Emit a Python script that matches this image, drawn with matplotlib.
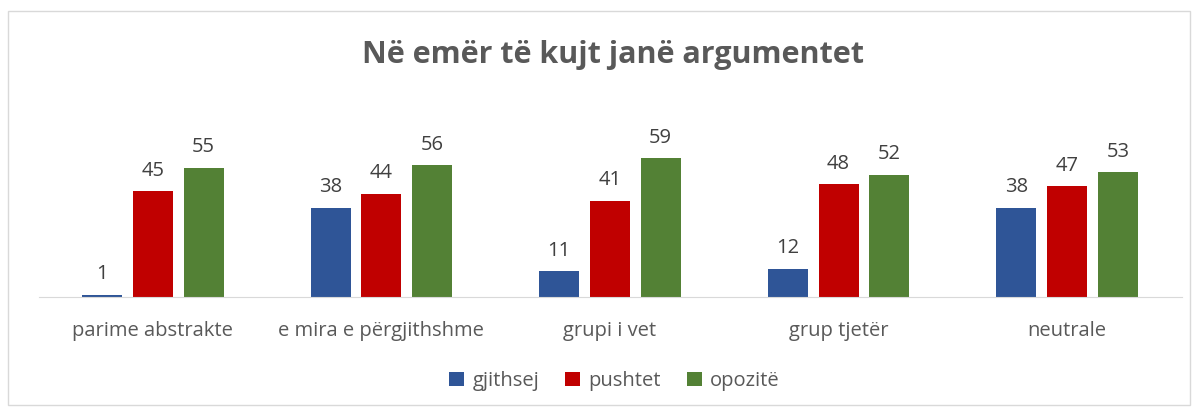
import numpy as np
import matplotlib.pyplot as plt
from matplotlib.patches import Rectangle

categories = ["parime abstrakte", "e mira e përgjithshme", "grupi i vet", "grup tjetër", "neutrale"]
series_names = ["gjithsej", "pushtet", "opozitë"]
gjithsej = [1, 38, 11, 12, 38]
pushtet = [45, 44, 41, 48, 47]
opozite = [55, 56, 59, 52, 53]
colors = ["#2F5597", "#C00000", "#538135"]

plt.rcParams['font.family'] = ['Open Sans', 'DejaVu Sans']

fig = plt.figure(figsize=(11.98, 4.12), dpi=100)
fig.patches.append(Rectangle((8 / 1198, 7 / 412), 1182 / 1198, 394 / 412, transform=fig.transFigure,
                             fill=False, edgecolor="#D9D9D9", linewidth=1))

ax = fig.add_axes([38.5 / 1198, (412 - 297) / 412, 1143 / 1198, (297 - 90) / 412])
x = np.arange(len(categories))
w = 0.175
step = 0.222
for i, (vals, name) in enumerate(zip([gjithsej, pushtet, opozite], series_names)):
    pos = x + (i - 1) * step
    ax.bar(pos, vals, width=w, color=colors[i], label=name)
    for p, v in zip(pos, vals):
        ax.text(p, v + 4.5, str(v), ha="center", va="bottom", fontsize=14.5, color="#404040")

ax.set_xlim(-0.5, len(categories) - 0.5)
ax.set_ylim(0, 88)
ax.set_xticks(x)
ax.set_xticklabels(categories, fontsize=14.5, color="#595959")
ax.tick_params(axis="x", length=0, pad=17)
ax.set_yticks([])
for s in ["top", "right", "left"]:
    ax.spines[s].set_visible(False)
ax.spines["bottom"].set_color("#D9D9D9")

fig.text(0.512, (412 - 55) / 412, "Në emër të kujt janë argumentet", ha="center", va="center",
         fontsize=22, fontweight="bold", color="#595959")

fig.legend(loc="center", bbox_to_anchor=(0.513, (412 - 381) / 412), ncol=3, frameon=False,
           fontsize=14.5, handlelength=0.75, handleheight=0.75, columnspacing=1.3, handletextpad=0.4,
           labelcolor="#595959")

fig.savefig("out.png", dpi=100)
